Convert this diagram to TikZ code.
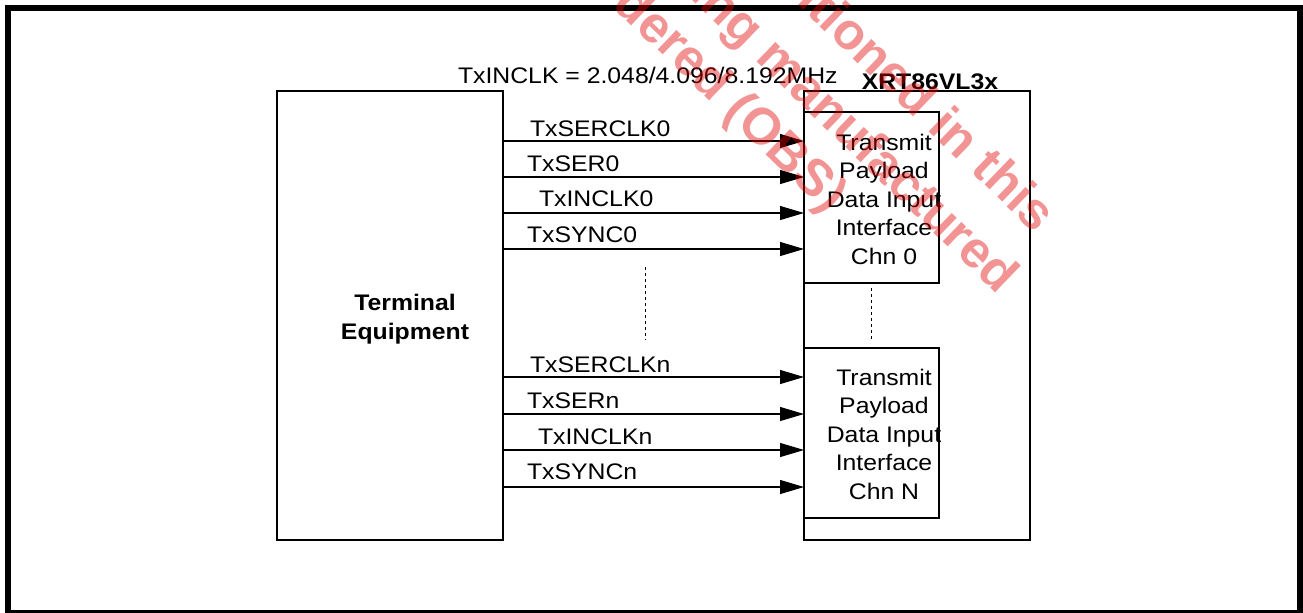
\documentclass[tikz,border=0pt]{standalone}
\usepackage{fontspec}
\setmainfont{Liberation Sans}[FakeStretch=1.1]
\newfontfamily\wmfont{Liberation Sans}
\usetikzlibrary{arrows.meta}
\definecolor{wmred}{RGB}{225,0,0}
\begin{document}
\begin{tikzpicture}[x=0.75pt,y=-0.75pt,
  txt/.style={font=\fontsize{16.9}{20}\selectfont, inner sep=0pt, outer sep=0pt},
  lbl/.style={txt, anchor=base west},
  ctr/.style={txt, anchor=base},
  bold/.style={txt, anchor=base, font=\fontsize{16.9}{20}\selectfont\bfseries},
  box/.style={draw, line width=1.1pt, inner sep=0pt, outer sep=0pt, anchor=north west},
  sig/.style={line width=0.8pt, -{Triangle[length=18pt, width=10.5pt]}},
  dots/.style={line width=0.75pt, dash pattern=on 2.5pt off 2pt},
  wm/.style={font=\wmfont\bfseries\fontsize{38.5}{45}\selectfont, text=wmred, text opacity=0.42,
             rotate=-44, anchor=mid east, inner sep=0pt}
]
\useasboundingbox (0,0) rectangle (1303,612);
\clip (0,0) rectangle (1303,612);
% outer frame
\draw[line width=4.5pt] (8,8) rectangle (1300,613);

% boxes
\node[box, minimum width=169.5pt, minimum height=336.75pt] (term) at (277,91) {};
\node[box, minimum width=169.5pt, minimum height=336.75pt] (xrt) at (804,91) {};
\node[box, minimum width=101.25pt, minimum height=128.25pt] (ch0) at (804,112) {};
\node[box, minimum width=101.25pt, minimum height=127.5pt] (chN) at (804,348) {};

% titles
\node[lbl] (clk) at (458,83) {TxINCLK = 2.048/4.096/8.192MHz};
\node[bold] (xrtname) at (930,89.5) {XRT86VL3x};
\node[bold] (te1) at (405,310.5) {Terminal};
\node[bold] (te2) at (405,339) {Equipment};

% channel 0 text
\node[ctr] (c0a) at (884,150) {Transmit};
\node[ctr] (c0b) at (884,178.5) {Payload};
\node[ctr] (c0c) at (884,207) {Data Input};
\node[ctr] (c0d) at (884,235.5) {Interface};
\node[ctr] (c0e) at (884,264) {Chn 0};
% channel N text
\node[ctr] (cna) at (884,385) {Transmit};
\node[ctr] (cnb) at (884,413.5) {Payload};
\node[ctr] (cnc) at (884,442) {Data Input};
\node[ctr] (cnd) at (884,470.5) {Interface};
\node[ctr] (cne) at (884,499) {Chn N};

% signal rows
\coordinate (r1) at (0,141);
\coordinate (r2) at (0,177);
\coordinate (r3) at (0,213);
\coordinate (r4) at (0,249);
\coordinate (r5) at (0,377);
\coordinate (r6) at (0,414);
\coordinate (r7) at (0,450);
\coordinate (r8) at (0,487);
\foreach \r in {r1,r2,r3,r4}{\draw[sig] (term.east |- \r) -- (ch0.west |- \r);}
\foreach \r in {r5,r6,r7,r8}{\draw[sig] (term.east |- \r) -- (chN.west |- \r);}

\node[lbl] (l1) at (530,136) {TxSERCLK0};
\node[lbl] (l2) at (527,171) {TxSER0};
\node[lbl] (l3) at (539,206.7) {TxINCLK0};
\node[lbl] (l4) at (527,242) {TxSYNC0};
\node[lbl] (l5) at (530,372) {TxSERCLKn};
\node[lbl] (l6) at (527,408) {TxSERn};
\node[lbl] (l7) at (538,444) {TxINCLKn};
\node[lbl] (l8) at (527,479) {TxSYNCn};

% continuation dots
\coordinate (d1a) at (645,267);
\coordinate (d1b) at (645,340);
\coordinate (d2a) at (871,288);
\coordinate (d2b) at (871,340);
\draw[dots] (d1a) -- (d1b);
\draw[dots] (d2a) -- (d2b);

% watermark
\node[wm] (w1) at (1038,232) {mentioned in this};
\node[wm] (w2) at (1001,293) {being manufactured};
\node[wm] (w3) at (830,212) {ordered (OBS)};
\end{tikzpicture}
\end{document}
